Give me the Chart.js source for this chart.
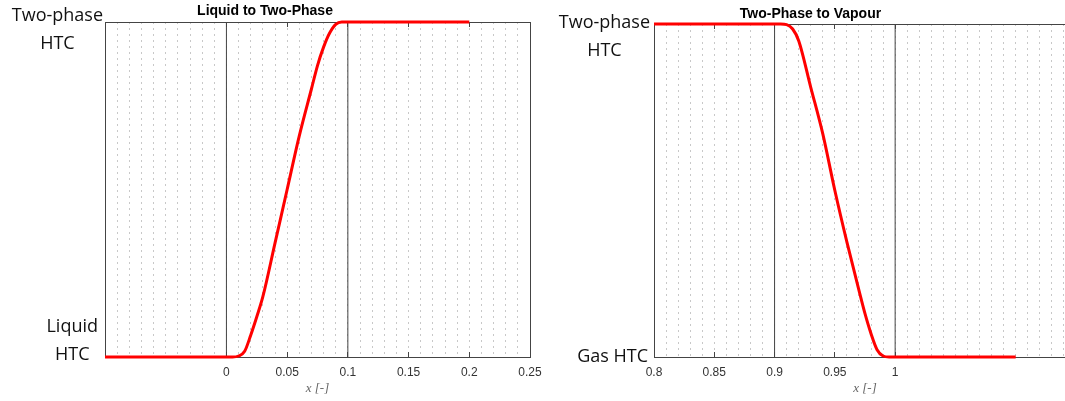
<!DOCTYPE html>
<html>
<head>
<meta charset="utf-8">
<script src="https://cdn.jsdelivr.net/npm/chart.js@4.4.1/dist/chart.umd.min.js"></script>
<style>
    html, body { margin: 0; padding: 0; background: #fff; overflow: hidden; }
    body { width: 1065px; height: 401px; position: relative; }
    .panel { position: absolute; top: 0; height: 401px; }
    #leftBox { left: 0; width: 545px; }
    #rightBox { left: 545px; width: 545px; }
</style>
</head>
<body>
<div class="panel" id="leftBox"><canvas id="leftChart"></canvas></div>
<div class="panel" id="rightBox"><canvas id="rightChart"></canvas></div>
<script>
// Liquid to Two-Phase
const leftX = [-0.1, 0, 0.005, 0.01, 0.015, 0.02, 0.025, 0.03, 0.04, 0.05, 0.06, 0.07, 0.075, 0.08, 0.085, 0.09, 0.095, 0.1, 0.2];
const leftY = [0, 0, 0, 0.003, 0.017, 0.065, 0.12, 0.18, 0.34, 0.5, 0.66, 0.8, 0.87, 0.925, 0.967, 0.993, 1, 1, 1];
const leftRefLines = [0, 0.1];
const leftTicks = [0, 0.05, 0.1, 0.15, 0.2, 0.25];
const leftYValues = [1, 0];
const leftYLabels = [['Two-phase', 'HTC'], ['Liquid', 'HTC']];

// Two-Phase to Vapour
const rightX = [0.8, 0.9, 0.905, 0.91, 0.915, 0.92, 0.93, 0.94, 0.95, 0.96, 0.97, 0.975, 0.98, 0.985, 0.99, 0.995, 1, 1.1];
const rightY = [1, 1, 1, 0.998, 0.985, 0.95, 0.81, 0.67, 0.5, 0.345, 0.2, 0.13, 0.07, 0.022, 0.003, 0, 0, 0];
const rightRefLines = [0.9, 1];
const rightTicks = [0.8, 0.85, 0.9, 0.95, 1];
const rightYValues = [1, 0];
const rightYLabels = [['Two-phase', 'HTC'], ['Gas HTC']];

const AXIS_COLOR = '#444';
const DOT_COLOR = '#c8c8c8';
const TICK_FONT = { family: '"Liberation Sans", Arial, sans-serif', size: 12 };

function isLabelled(value, list) {
    return list.some(t => Math.abs(t - value) < 1e-9);
}

// minor ticks every 0.01 so the dotted grid matches
function minorTicks(scale) {
    const lo = Math.round(scale.min * 100);
    const hi = Math.round(scale.max * 100);
    const ticks = [];
    for (let i = lo; i <= hi; i++) ticks.push({ value: i / 100 });
    scale.ticks = ticks;
}

// multi-line y labels, lines centred inside a right-aligned block
const yLabelPlugin = {
    id: 'yLabels',
    afterDraw(chart, args, opts) {
        const ctx = chart.ctx;
        const yScale = chart.scales.y;
        ctx.save();
        ctx.font = '18px "Open Sans", sans-serif';
        ctx.fillStyle = '#111';
        ctx.textAlign = 'center';
        ctx.textBaseline = 'middle';
        opts.values.forEach((v, i) => {
            const lines = opts.labels[i];
            const place = opts.placement[i];
            const widest = Math.max(...lines.map(l => ctx.measureText(l).width));
            const cx = chart.chartArea.left - place.gap - widest / 2;
            let y = yScale.getPixelForValue(v) + place.dy;
            if (place.anchor === 'last') y -= (lines.length - 1) * opts.lineGap;
            lines.forEach((l, k) => ctx.fillText(l, cx, y + k * opts.lineGap));
        });
        ctx.restore();
    }
};

function createPanel(canvasId, cfg) {
    const ctx = document.getElementById(canvasId).getContext('2d');

    const datasets = [{
        data: cfg.xs.map((x, i) => ({ x: x, y: cfg.ys[i] })),
        borderColor: '#ff0000',
        borderWidth: 3,
        pointRadius: 0,
        cubicInterpolationMode: 'monotone',
        clip: false
    }];
    cfg.refLines.forEach(x => {
        datasets.push({
            data: [{ x: x, y: 0 }, { x: x, y: 1 }],
            borderColor: AXIS_COLOR,
            borderWidth: 1,
            pointRadius: 0
        });
    });

    const xGrid = {
        color: DOT_COLOR,
        lineWidth: 1,
        drawTicks: true,
        tickLength: -5,
        tickWidth: 1,
        tickColor: c => (c.tick && isLabelled(c.tick.value, cfg.ticks) ? AXIS_COLOR : 'rgba(0,0,0,0)')
    };

    return new Chart(ctx, {
        type: 'line',
        data: { datasets: datasets },
        plugins: [yLabelPlugin],
        options: {
            responsive: true,
            maintainAspectRatio: false,
            animation: false,
            devicePixelRatio: 1,
            layout: { padding: { left: 0, right: cfg.padRight, top: 0, bottom: 0 } },
            plugins: {
                legend: { display: false },
                tooltip: { enabled: false },
                title: {
                    display: true,
                    text: cfg.title,
                    color: '#000',
                    font: { family: '"Liberation Sans", Arial, sans-serif', size: 14, weight: 'bold', lineHeight: 1.2 },
                    padding: cfg.titlePad
                },
                yLabels: {
                    values: cfg.yValues,
                    labels: cfg.yLabels,
                    placement: cfg.yPlacement,
                    lineGap: 28
                }
            },
            scales: {
                x: {
                    type: 'linear',
                    position: 'bottom',
                    min: cfg.min,
                    max: cfg.max,
                    afterBuildTicks: minorTicks,
                    afterFit: s => { s.height = 44; s.paddingLeft = 0; s.paddingRight = 0; },
                    ticks: {
                        autoSkip: false,
                        maxRotation: 0,
                        padding: 13,
                        color: '#333',
                        font: TICK_FONT,
                        callback: v => (isLabelled(v, cfg.ticks) ? String(+v.toFixed(2)) : '')
                    },
                    grid: xGrid,
                    border: { display: true, color: AXIS_COLOR, width: 1, dash: [2, 4] },
                    title: {
                        display: true,
                        text: 'x [-]',
                        color: '#666',
                        font: { family: '"Liberation Serif", "DejaVu Serif", serif', size: 13, style: 'italic', lineHeight: 1.2 },
                        padding: { top: 0, bottom: 5 }
                    }
                },
                xTop: {
                    type: 'linear',
                    position: 'top',
                    min: cfg.min,
                    max: cfg.max,
                    afterBuildTicks: minorTicks,
                    afterFit: s => { s.height = 0; s.paddingLeft = 0; s.paddingRight = 0; },
                    ticks: { display: false, autoSkip: false },
                    grid: Object.assign({}, xGrid, { drawOnChartArea: false }),
                    border: { display: true, color: AXIS_COLOR, width: 1 }
                },
                y: {
                    type: 'linear',
                    position: 'left',
                    min: 0,
                    max: 1,
                    afterFit: s => { s.width = cfg.axisLeft; },
                    ticks: { display: false },
                    grid: { display: false },
                    border: { display: true, color: AXIS_COLOR, width: 1 }
                },
                yRight: {
                    type: 'linear',
                    position: 'right',
                    min: 0,
                    max: 1,
                    afterFit: s => { s.width = 0; },
                    ticks: { display: false },
                    grid: { display: false },
                    border: { display: true, color: AXIS_COLOR, width: 1 }
                }
            }
        }
    });
}

createPanel('leftChart', {
    title: 'Liquid to Two-Phase',
    xs: leftX, ys: leftY, refLines: leftRefLines, ticks: leftTicks,
    yValues: leftYValues, yLabels: leftYLabels,
    yPlacement: [{ gap: 2, dy: -6, anchor: 'first' }, { gap: 7, dy: -2, anchor: 'last' }],
    min: -0.1, max: 0.25,
    axisLeft: 105, padRight: 15,
    titlePad: { top: 2.6, bottom: 2.6 }
});

createPanel('rightChart', {
    title: 'Two-Phase to Vapour',
    xs: rightX, ys: rightY, refLines: rightRefLines, ticks: rightTicks,
    yValues: rightYValues, yLabels: rightYLabels,
    yPlacement: [{ gap: 4, dy: -1, anchor: 'first' }, { gap: 6, dy: 0, anchor: 'last' }],
    min: 0.8, max: 1.15,
    axisLeft: 109, padRight: 14,
    titlePad: { top: 5.6, bottom: 1.6 }
});
</script>
</body>
</html>
